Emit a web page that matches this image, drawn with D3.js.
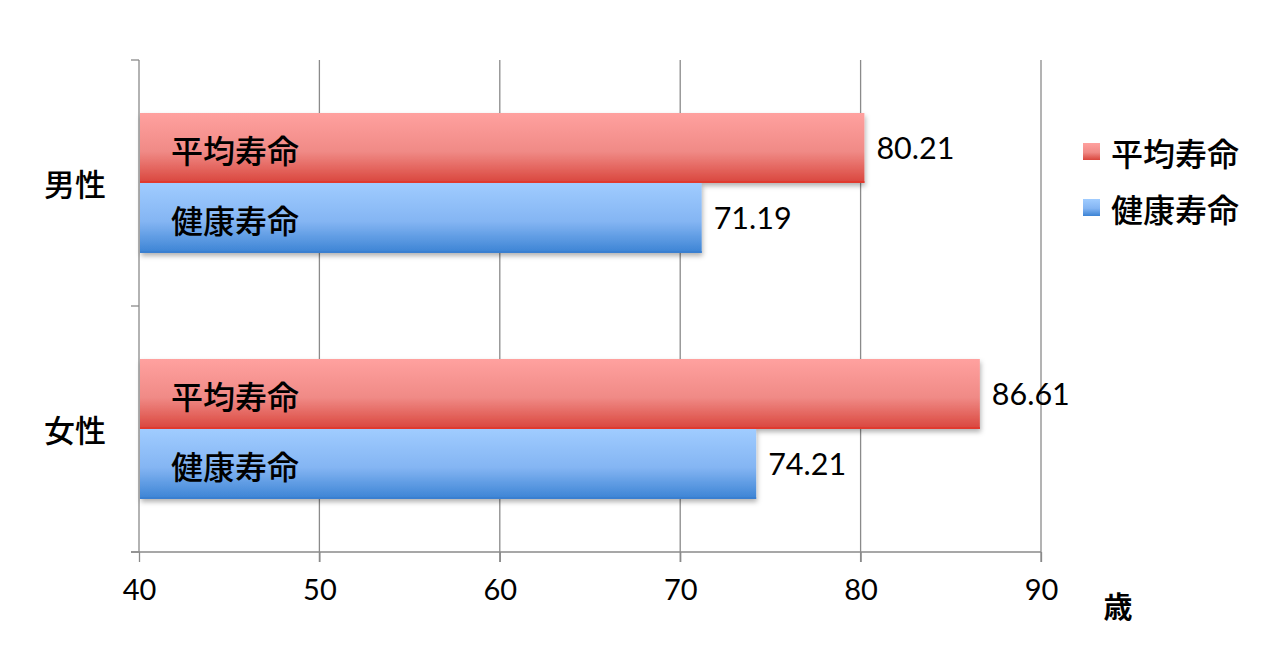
<!DOCTYPE html>
<html><head><meta charset="utf-8">
<script src="https://cdn.jsdelivr.net/npm/d3@7/dist/d3.min.js"></script>
<style>body{margin:0;background:#fff}svg{display:block}</style>
</head><body>
<svg id="c" width="1280" height="663"></svg>
<script>
const categories = ["男性", "女性"];
const seriesNames = ["平均寿命", "健康寿命"];
const avgLife = [80.21, 86.61];
const healthyLife = [71.19, 74.21];
const xTicks = [40, 50, 60, 70, 80, 90];
const unitLabel = "歳";

const svg = d3.select("#c");
const L = 139, R = 1041, T = 60, B = 552;
const x = d3.scaleLinear().domain([40, 90]).range([L, R]);
const y = d3.scaleBand().domain(categories).range([T, B]);
const inner = d3.scaleBand().domain(seriesNames).range([53, 193]);

const jp = "'Noto Sans CJK JP','Noto Sans CJK SC',sans-serif";
const num = "Lato,'Open Sans',sans-serif";

const defs = svg.append("defs");
const grads = [["gR", "#ffa19f", "#f08a86", "#d9453c"], ["gB", "#a0ccff", "#84b5f3", "#3b83d4"]];
grads.forEach(([id, a, m, b]) => {
  const g = defs.append("linearGradient").attr("id", id).attr("x1", 0).attr("y1", 0).attr("x2", 0).attr("y2", 1);
  g.append("stop").attr("offset", "0%").attr("stop-color", a);
  g.append("stop").attr("offset", "55%").attr("stop-color", m);
  g.append("stop").attr("offset", "100%").attr("stop-color", b);
});
const f = defs.append("filter").attr("id", "sh").attr("x", "-5%").attr("y", "-20%").attr("width", "110%").attr("height", "150%");
f.append("feDropShadow").attr("dx", 1).attr("dy", 3).attr("stdDeviation", 2.5).attr("flood-color", "#000").attr("flood-opacity", 0.3);

// gridlines
svg.append("g").selectAll("line").data(xTicks.slice(1)).join("line")
  .attr("x1", d => x(d)).attr("x2", d => x(d)).attr("y1", T).attr("y2", B + 10)
  .attr("stroke", "#8a8a8a").attr("stroke-width", 1.3);

// bottom axis
const xa = d3.axisBottom(x).tickValues(xTicks).tickSize(10).tickSizeOuter(0);
const gx = svg.append("g").attr("transform", `translate(0,${B})`).call(xa);
gx.select(".domain").remove();
gx.selectAll(".tick line").attr("stroke", "#8a8a8a").attr("stroke-width", 1.3);
gx.selectAll(".tick text").attr("font-family", num).attr("font-size", 29).attr("fill", "#000").attr("dy", "1.2em");
svg.append("line").attr("x1", L - 8).attr("x2", R).attr("y1", B).attr("y2", B).attr("stroke", "#8a8a8a").attr("stroke-width", 1.3);

// left axis
svg.append("line").attr("x1", L).attr("x2", L).attr("y1", T).attr("y2", B).attr("stroke", "#8a8a8a").attr("stroke-width", 1.3);
svg.append("g").selectAll("line").data([y(categories[0]), y(categories[1]), y(categories[1]) + y.bandwidth()]).join("line")
  .attr("x1", L - 8).attr("x2", L).attr("y1", d => d).attr("y2", d => d).attr("stroke", "#8a8a8a").attr("stroke-width", 1.3);

svg.append("g").selectAll("text").data(categories).join("text")
  .attr("x", 75).attr("y", d => y(d) + y.bandwidth() / 2 - 0.5).attr("text-anchor", "middle").attr("dominant-baseline", "central")
  .attr("font-family", jp).attr("font-size", 31).attr("font-weight", 500).text(d => d);

// bars
const rows = [];
categories.forEach((c, i) => {
  rows.push({ c, s: seriesNames[0], v: avgLife[i], g: "gR", edge: "#e03a2e" });
  rows.push({ c, s: seriesNames[1], v: healthyLife[i], g: "gB", edge: "#3a7fd0" });
});
const bg = svg.append("g");
bg.selectAll("rect").data(rows).join("rect")
  .attr("x", x(40) + 1).attr("y", d => y(d.c) + inner(d.s)).attr("width", d => x(d.v) - x(40) - 1).attr("height", inner.bandwidth())
  .attr("fill", d => `url(#${d.g})`).attr("filter", "url(#sh)");
bg.selectAll("line").data(rows).join("line")
  .attr("x1", x(40) + 1).attr("x2", d => x(d.v)).attr("y1", d => y(d.c) + inner(d.s) + inner.bandwidth() - 1).attr("y2", d => y(d.c) + inner(d.s) + inner.bandwidth() - 1)
  .attr("stroke", d => d.edge).attr("stroke-width", 2);

// in-bar labels
svg.append("g").selectAll("text").data(rows).join("text")
  .attr("x", 171).attr("y", d => y(d.c) + inner(d.s) + inner.bandwidth() / 2 + 1).attr("dominant-baseline", "central")
  .attr("font-family", jp).attr("font-size", 32).attr("font-weight", 500).attr("fill", "#000").text(d => d.s);

// value labels
svg.append("g").selectAll("text").data(rows).join("text")
  .attr("x", d => x(d.v) + 12).attr("y", d => y(d.c) + inner(d.s) + inner.bandwidth() / 2 - 1).attr("dominant-baseline", "central")
  .attr("font-family", num).attr("font-size", 30.5).attr("fill", "#000").text(d => d.v.toFixed(2));

// unit
svg.append("text").attr("x", 1118).attr("y", 605).attr("text-anchor", "middle").attr("dominant-baseline", "central")
  .attr("font-family", jp).attr("font-size", 29).attr("font-weight", 700).text(unitLabel);

// legend
const lg = svg.append("g");
seriesNames.forEach((s, i) => {
  const yy = 151 + i * 56;
  lg.append("rect").attr("x", 1083).attr("y", yy - 8).attr("width", 17).attr("height", 17).attr("fill", `url(#${grads[i][0]})`);
  lg.append("text").attr("x", 1111).attr("y", yy + 1).attr("dominant-baseline", "central")
    .attr("font-family", jp).attr("font-size", 32).attr("font-weight", 500).text(s);
});
</script>
</body></html>
